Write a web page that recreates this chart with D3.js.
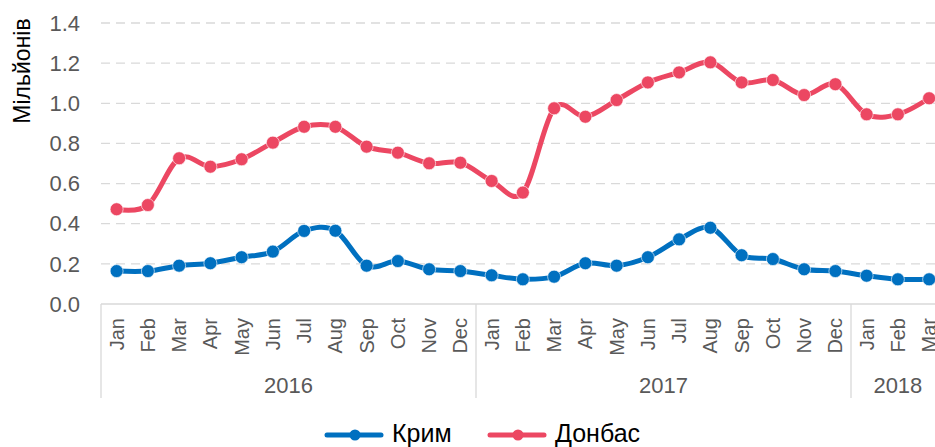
<!DOCTYPE html>
<html>
<head>
<meta charset="utf-8">
<script src="https://cdn.jsdelivr.net/npm/d3@7"></script>
<style>
  body { margin: 0; background: #fff; }
  svg { display: block; font-family: "Liberation Sans", Arial, sans-serif; }
</style>
</head>
<body>
<div id="chart"></div>
<script>
// data
var months = ["Jan","Feb","Mar","Apr","May","Jun","Jul","Aug","Sep","Oct","Nov","Dec",
              "Jan","Feb","Mar","Apr","May","Jun","Jul","Aug","Sep","Oct","Nov","Dec",
              "Jan","Feb","Mar"];
var years = [["2016", 12], ["2017", 12], ["2018", 3]];
var krym = [0.164, 0.164, 0.191, 0.203, 0.233, 0.261, 0.364, 0.365, 0.191, 0.214, 0.173, 0.164,
            0.143, 0.123, 0.136, 0.203, 0.191, 0.233, 0.322, 0.380, 0.243, 0.224, 0.173, 0.164,
            0.141, 0.123, 0.123];
var donbas = [0.472, 0.493, 0.726, 0.684, 0.721, 0.804, 0.883, 0.883, 0.784, 0.754, 0.701, 0.704,
              0.613, 0.555, 0.975, 0.933, 1.016, 1.104, 1.154, 1.204, 1.104, 1.116, 1.041, 1.095,
              0.945, 0.945, 1.025];
var yTicks = [0, 0.2, 0.4, 0.6, 0.8, 1.0, 1.2, 1.4];
var seriesNames = ["Крим", "Донбас"];
var seriesColors = ["#0070C0", "#EC4762"];

var width = 935, height = 447;
var plotLeft = 101, plotTop = 23, plotBottom = 304;
var bandW = 31.25;

var svg = d3.select("#chart").append("svg")
  .attr("width", width)
  .attr("height", height);

var x = d3.scaleBand()
  .domain(d3.range(months.length))
  .range([plotLeft, plotLeft + bandW * months.length])
  .padding(0);

var y = d3.scaleLinear().domain([0, 1.4]).range([plotBottom, plotTop]);

// gridlines
svg.append("g").selectAll("line")
  .data(yTicks.filter(function(d) { return d > 0; }))
  .enter().append("line")
  .attr("x1", plotLeft).attr("x2", width)
  .attr("y1", function(d) { return y(d); })
  .attr("y2", function(d) { return y(d); })
  .attr("stroke", "#d9d9d9")
  .attr("stroke-width", 1.3)
  .attr("stroke-dasharray", "9,6");

// y tick labels
svg.append("g").selectAll("text")
  .data(yTicks)
  .enter().append("text")
  .attr("x", 80)
  .attr("y", function(d) { return y(d); })
  .attr("dy", "0.35em")
  .attr("text-anchor", "end")
  .attr("fill", "#595959")
  .style("font-size", "22px")
  .text(function(d) { return d.toFixed(1); });

// y title
svg.append("text")
  .attr("transform", "translate(30,71) rotate(-90)")
  .attr("text-anchor", "middle")
  .attr("fill", "#000")
  .style("font-size", "23px")
  .text("Мільйонів");

// x axis line
svg.append("line")
  .attr("x1", plotLeft).attr("x2", width)
  .attr("y1", plotBottom).attr("y2", plotBottom)
  .attr("stroke", "#d9d9d9").attr("stroke-width", 1.3);

// year separators and labels
var start = 0;
var bounds = [0];
years.forEach(function(yr) { start += yr[1]; bounds.push(start); });
svg.append("g").selectAll("line")
  .data(bounds)
  .enter().append("line")
  .attr("x1", function(i) { return plotLeft + bandW * i; })
  .attr("x2", function(i) { return plotLeft + bandW * i; })
  .attr("y1", plotBottom).attr("y2", 398)
  .attr("stroke", "#d9d9d9").attr("stroke-width", 1.3);

svg.append("g").selectAll("text")
  .data(years)
  .enter().append("text")
  .attr("x", function(d, i) { return plotLeft + bandW * (bounds[i] + bounds[i + 1]) / 2; })
  .attr("y", 393)
  .attr("text-anchor", "middle")
  .attr("fill", "#595959")
  .style("font-size", "22px")
  .text(function(d) { return d[0]; });

// month labels
svg.append("g").selectAll("text")
  .data(months)
  .enter().append("text")
  .attr("transform", function(d, i) {
    return "translate(" + (x(i) + x.bandwidth() / 2) + ",318) rotate(-90)";
  })
  .attr("dy", "0.35em")
  .attr("text-anchor", "end")
  .attr("fill", "#595959")
  .style("font-size", "20px")
  .text(function(d) { return d; });

// lines
var line = d3.line()
  .x(function(d, i) { return x(i) + x.bandwidth() / 2; })
  .y(function(d) { return y(d); })
  .curve(d3.curveCatmullRom.alpha(0));

[krym, donbas].forEach(function(series, s) {
  var g = svg.append("g");
  g.append("path")
    .datum(series)
    .attr("d", line)
    .attr("fill", "none")
    .attr("stroke", seriesColors[s])
    .attr("stroke-width", 5)
    .attr("stroke-linecap", "round");
  g.selectAll("circle")
    .data(series)
    .enter().append("circle")
    .attr("cx", function(d, i) { return x(i) + x.bandwidth() / 2; })
    .attr("cy", function(d) { return y(d); })
    .attr("r", 6.5)
    .attr("fill", seriesColors[s])
    .attr("stroke", "#fff")
    .attr("stroke-opacity", 0.6)
    .attr("stroke-width", 1);
});

// legend
var legendX = [327, 490];
var legend = svg.append("g").selectAll("g")
  .data(seriesNames)
  .enter().append("g")
  .attr("transform", function(d, i) { return "translate(" + legendX[i] + ",435)"; });
legend.append("line")
  .attr("x1", 0).attr("x2", 54)
  .attr("stroke", function(d, i) { return seriesColors[i]; })
  .attr("stroke-width", 5)
  .attr("stroke-linecap", "round");
legend.append("circle")
  .attr("cx", 28).attr("r", 5.5)
  .attr("fill", function(d, i) { return seriesColors[i]; });
legend.append("text")
  .attr("x", 65)
  .attr("y", 7)
  .attr("fill", "#000")
  .style("font-size", "25px")
  .text(function(d) { return d; });
</script>
</body>
</html>
